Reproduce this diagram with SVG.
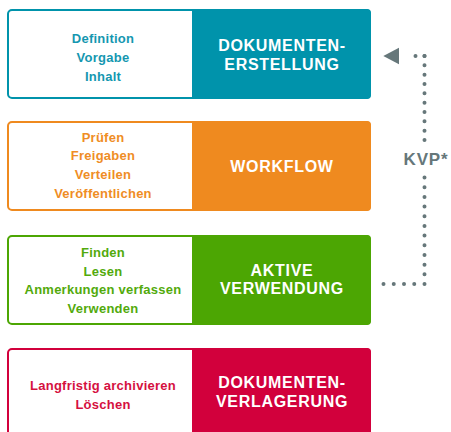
<svg xmlns="http://www.w3.org/2000/svg" width="451" height="432" viewBox="0 0 451 432">
<style>
  .frame { fill: #ffffff; stroke-width: 2; }
  .item { font-family: "Liberation Sans", Arial, sans-serif; font-size: 13px; font-weight: bold; text-anchor: middle; letter-spacing: 0.25px; }
  .title { font-family: "Liberation Sans", Arial, sans-serif; font-size: 16px; font-weight: bold; text-anchor: middle; fill: #ffffff; letter-spacing: 0.7px; }
  .dots { fill: none; stroke: #66777a; stroke-width: 4; stroke-linecap: round; }
  .kvp { font-family: "Liberation Sans", Arial, sans-serif; font-size: 17px; font-weight: bold; text-anchor: middle; fill: #66777a; letter-spacing: 0.8px; }
</style>
<rect width="451" height="432" fill="#ffffff"/>

<g id="node-erstellung">
  <rect class="frame" x="8" y="10" width="362" height="88" rx="4" stroke="#0093ab"/>
  <path d="M192,9 H367 A4,4 0 0 1 371,13 V95 A4,4 0 0 1 367,99 H192 Z" fill="#0093ab"/>
  <g class="item" fill="#1597b0">
    <text x="103" y="43">Definition</text>
    <text x="103" y="62">Vorgabe</text>
    <text x="103" y="81">Inhalt</text>
  </g>
  <text class="title" x="282" y="51">DOKUMENTEN-</text>
  <text class="title" x="282" y="70">ERSTELLUNG</text>
</g>

<g id="node-workflow">
  <rect class="frame" x="8" y="122" width="362" height="88" rx="4" stroke="#ef8a1f"/>
  <path d="M192,121 H367 A4,4 0 0 1 371,125 V207 A4,4 0 0 1 367,211 H192 Z" fill="#ef8a1f"/>
  <g class="item" fill="#ef8d25">
    <text x="103" y="141.5">Prüfen</text>
    <text x="103" y="160.3">Freigaben</text>
    <text x="103" y="179">Verteilen</text>
    <text x="103" y="197.7">Veröffentlichen</text>
  </g>
  <text class="title" x="282" y="171.5">WORKFLOW</text>
</g>

<g id="node-verwendung">
  <rect class="frame" x="8" y="236" width="362" height="88" rx="4" stroke="#4ca603"/>
  <path d="M192,235 H367 A4,4 0 0 1 371,239 V321 A4,4 0 0 1 367,325 H192 Z" fill="#4ca603"/>
  <g class="item" fill="#52aa0c">
    <text x="103" y="257.3">Finden</text>
    <text x="103" y="275.7">Lesen</text>
    <text x="103" y="294.3">Anmerkungen verfassen</text>
    <text x="103" y="312.7">Verwenden</text>
  </g>
  <text class="title" x="282" y="275.5">AKTIVE</text>
  <text class="title" x="282" y="294">VERWENDUNG</text>
</g>

<g id="node-verlagerung">
  <rect class="frame" x="8" y="349" width="362" height="88" rx="4" stroke="#d2003c"/>
  <path d="M192,348 H367 A4,4 0 0 1 371,352 V434 A4,4 0 0 1 367,438 H192 Z" fill="#d2003c"/>
  <g class="item" fill="#d5103f">
    <text x="103" y="390.3">Langfristig archivieren</text>
    <text x="103" y="408.7">Löschen</text>
  </g>
  <text class="title" x="282" y="388.3">DOKUMENTEN-</text>
  <text class="title" x="282" y="406.7">VERLAGERUNG</text>
</g>

<g id="connectors">
  <path class="dots" d="M383.5,284 H424.5" stroke-dasharray="0 10.25"/>
  <path class="dots" d="M424.5,284 V177.5" stroke-dasharray="0 9.68"/>
  <path class="dots" d="M424.5,140 V56" stroke-dasharray="0 9.333"/>
  <path class="dots" d="M424.5,56 H406.5" stroke-dasharray="0 9"/>
  <path d="M383.3,56 L399,47.7 L399,64.3 Z" fill="#66777a"/>
  <text class="kvp" x="426" y="165">KVP*</text>
</g>
</svg>
